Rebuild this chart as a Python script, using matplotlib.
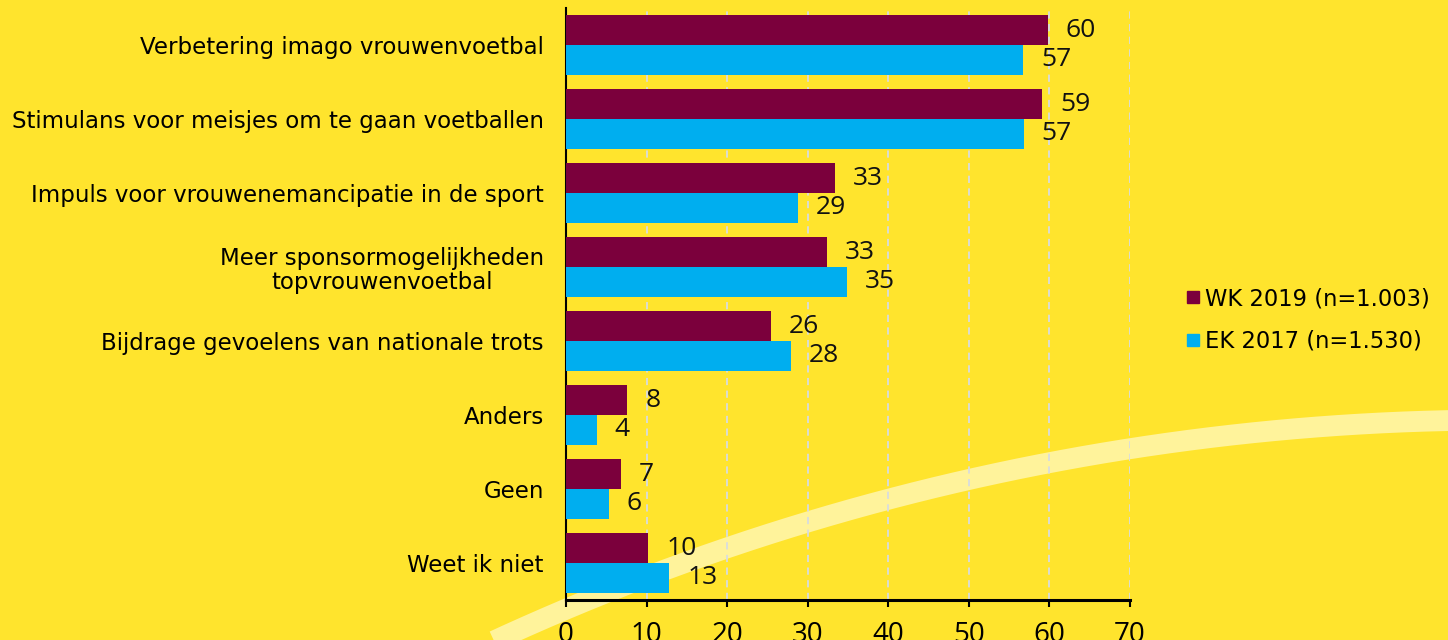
import numpy as np
import matplotlib
matplotlib.use('Agg')
import matplotlib.pyplot as plt
from matplotlib.lines import Line2D

# data (top to bottom)
categories = ['Verbetering imago vrouwenvoetbal',
              'Stimulans voor meisjes om te gaan voetballen',
              'Impuls voor vrouwenemancipatie in de sport',
              'Meer sponsormogelijkheden\ntopvrouwenvoetbal',
              'Bijdrage gevoelens van nationale trots',
              'Anders',
              'Geen',
              'Weet ik niet']
wk_2019 = [59.8, 59.1, 33.4, 32.4, 25.4, 7.6, 6.8, 10.2]
ek_2017 = [56.7, 56.8, 28.8, 34.9, 27.9, 3.8, 5.3, 12.8]
wk_labels = [60, 59, 33, 33, 26, 8, 7, 10]
ek_labels = [57, 57, 29, 35, 28, 4, 6, 13]
x_ticks = [0, 10, 20, 30, 40, 50, 60, 70]

bg = '#FFE42D'
c_wk = '#7B003C'
c_ek = '#00AEEF'
label_font = ['DejaVu Sans']
num_font = ['Open Sans', 'DejaVu Sans']

fig = plt.figure(figsize=(14.48, 6.4), dpi=100, facecolor=bg)

# pale arc in the background
bgax = fig.add_axes([0, 0, 1, 1], zorder=0)
bgax.set_xlim(0, 1448)
bgax.set_ylim(640, 0)
bgax.axis('off')
R, cx, cy = 2400, 1500, 2820
t = np.linspace(np.pi * 1.05, np.pi * 1.62, 400)
bgax.plot(cx + R * np.cos(t), cy + R * np.sin(t), color='#FFF39B', lw=15, solid_capstyle='butt')

ax = fig.add_axes([566 / 1448, 40 / 640, 564 / 1448, 592 / 640], zorder=1)
ax.patch.set_alpha(0)

y = np.arange(len(categories))
h = 0.405
ax.barh(y - h / 2, wk_2019, height=h, color=c_wk, zorder=3)
ax.barh(y + h / 2, ek_2017, height=h, color=c_ek, zorder=3)

for i in range(len(categories)):
    ax.annotate(str(wk_labels[i]), (wk_2019[i], y[i] - h / 2), xytext=(13, 0),
                textcoords='offset points', va='center', ha='left',
                fontsize=19, family=num_font, color='#111111')
    ax.annotate(str(ek_labels[i]), (ek_2017[i], y[i] + h / 2), xytext=(13, 0),
                textcoords='offset points', va='center', ha='left',
                fontsize=19, family=num_font, color='#111111')

ax.set_ylim(len(categories) - 0.5, -0.5)
ax.set_xlim(0, 70)
ax.set_xticks(x_ticks)
ax.set_xticklabels([str(v) for v in x_ticks], family=num_font, fontsize=20)
ax.set_yticks(y)
ax.set_yticklabels(categories, family=label_font, fontsize=16.5)
for lab in ax.get_yticklabels():
    lab.set_multialignment('center')
    lab.set_linespacing(1.1)

ax.tick_params(axis='y', length=0, pad=16)
ax.tick_params(axis='x', length=5, width=1.5, pad=10)
ax.xaxis.grid(True, color='#D8DCE0', ls=(0, (4, 3)), lw=1.3, zorder=1)
ax.set_axisbelow(True)
for s in ['top', 'right']:
    ax.spines[s].set_visible(False)
ax.spines['left'].set_linewidth(1.5)
ax.spines['bottom'].set_linewidth(2.2)

handles = [Line2D([], [], ls='', marker='s', ms=9, color=c_wk),
           Line2D([], [], ls='', marker='s', ms=9, color=c_ek)]
leg = fig.legend(handles, ['WK 2019 (n=1.003)', 'EK 2017 (n=1.530)'],
                 loc='center left', bbox_to_anchor=(1161 / 1448, 1 - 320 / 640),
                 frameon=False, handletextpad=0.05, handlelength=1.0,
                 labelspacing=0.85, prop={'family': label_font, 'size': 16.3})

fig.savefig('out.png', dpi=100, facecolor=bg)
